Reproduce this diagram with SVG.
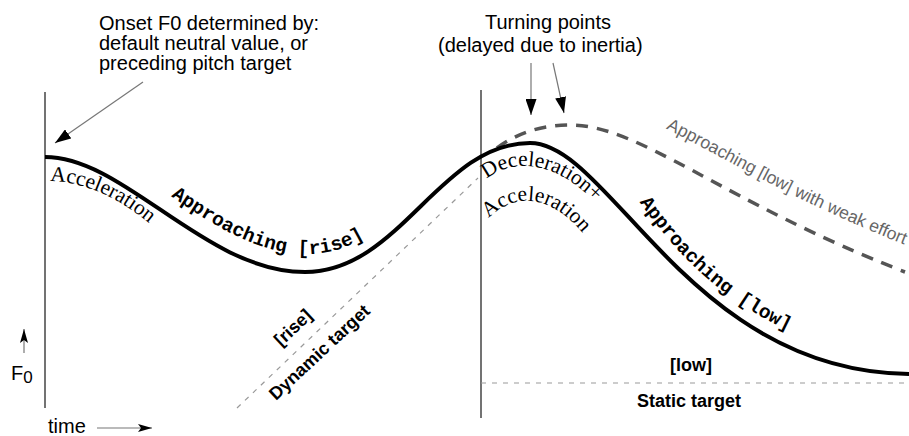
<svg xmlns="http://www.w3.org/2000/svg" width="909" height="436" viewBox="0 0 909 436">
<style>
.sans{font-family:"Liberation Sans",Arial,sans-serif;fill:#000}
.ser{font-family:"Liberation Serif","Times New Roman",serif;font-size:21.5px;fill:#000}
.mono{font-family:"Liberation Mono","Courier New",monospace;font-weight:bold;font-size:19.5px;fill:#000}
.bold{font-family:"Liberation Sans",Arial,sans-serif;font-weight:bold;font-size:18px;fill:#000}
.ann{font-size:20px}
.axis{stroke:#444;stroke-width:1.5;fill:none}
.ptr{stroke:#777;stroke-width:1.2;fill:none}
.target{stroke:#999;stroke-width:1.2;stroke-dasharray:5 6;fill:none}
</style>
<defs>
<marker id="ah" viewBox="0 0 16 11" refX="16" refY="5.5" markerWidth="16" markerHeight="11" markerUnits="userSpaceOnUse" orient="auto">
<path d="M0,0 L16,5.5 L0,11 Z" fill="#000"/>
</marker>
<marker id="ahs" viewBox="0 0 14 8" refX="14" refY="4" markerWidth="14" markerHeight="8" markerUnits="userSpaceOnUse" orient="auto">
<path d="M0,0 L14,4 L0,8 L3,4 Z" fill="#000"/>
</marker>
<path id="pAcc1" d="M48,181 C 88,181 128,202 166,238"/>
<path id="pRise" d="M48,138 C 128,138 208,254 308,254 C 403,254 443,124 533,124"/>
<path id="pDec" d="M482,183 C 510,156 562,155 614,224"/>
<path id="pAcc2" d="M485,222 C 512,191 556,188 598,254"/>
<path id="pLow" d="M636,197 C 680,260 730,310 820,344"/>
<path id="pWeak" d="M578,101 C 648,101 728,176 913,248"/>
</defs>

<g id="axes">
<line class="axis" x1="45" y1="92" x2="45" y2="408"/>
<line class="axis" x1="481" y1="90" x2="481" y2="418"/>
</g>

<g id="targets">
<line id="dynamic-target-line" class="target" x1="237" y1="408" x2="478" y2="178"/>
<line id="static-target-line" class="target" x1="481" y1="383" x2="909" y2="383" stroke="#888"/>
</g>

<g id="curves">
<path id="weak-curve" d="M497,148 C 520,131 545,125 570,125 C 640,125 720,200 905,272" fill="none" stroke="#555" stroke-width="3.5" stroke-dasharray="12 9"/>
<path id="f0-curve" d="M45,157 C 125,157 205,272 305,272 C 400,272 440,143 530,143 C 610,143 690,372 909,374" fill="none" stroke="#000" stroke-width="4"/>
</g>

<g id="connectors">
<line class="ptr" x1="143" y1="82" x2="55" y2="143" marker-end="url(#ah)"/>
<line class="ptr" x1="531" y1="63" x2="531" y2="115" marker-end="url(#ah)"/>
<line class="ptr" x1="553" y1="63" x2="564" y2="113" marker-end="url(#ah)"/>
<line class="ptr" x1="24" y1="353" x2="24" y2="329" marker-end="url(#ahs)"/>
<line class="ptr" x1="97" y1="428" x2="152" y2="428" marker-end="url(#ahs)" stroke="#333"/>
</g>

<g id="onset-note">
<text class="sans ann" x="99" y="30">Onset F0 determined by:</text>
<text class="sans ann" x="99" y="50">default neutral value, or</text>
<text class="sans ann" x="99" y="70">preceding pitch target</text>
</g>

<g id="turning-note">
<text class="sans ann" x="485" y="29">Turning points</text>
<text class="sans ann" x="438" y="52">(delayed due to inertia)</text>
</g>

<g id="segment-labels">
<text class="ser"><textPath href="#pAcc1" startOffset="2">Acceleration</textPath></text>
<text class="mono"><textPath href="#pRise" startOffset="138">Approaching [rise]</textPath></text>
<text class="ser"><textPath href="#pDec" startOffset="6">Deceleration+</textPath></text>
<text class="ser"><textPath href="#pAcc2" startOffset="5">Acceleration</textPath></text>
<text class="mono"><textPath href="#pLow" startOffset="6">Approaching [low]</textPath></text>
<text class="sans" font-size="17.5" style="fill:#666"><textPath href="#pWeak" startOffset="93">Approaching [low] with weak effort</textPath></text>
</g>

<g id="target-labels">
<text class="bold" transform="translate(281,347) rotate(-43)">[rise]</text>
<text class="bold" font-size="19" transform="translate(276,401) rotate(-43)">Dynamic target</text>
<text class="bold" x="670" y="371">[low]</text>
<text class="bold" x="637" y="407" font-size="18.5">Static target</text>
</g>

<g id="axis-labels">
<text class="sans" x="11" y="380" font-size="20">F<tspan font-size="17" dy="3">0</tspan></text>
<text class="sans" x="48" y="433" font-size="20">time</text>
</g>
</svg>
